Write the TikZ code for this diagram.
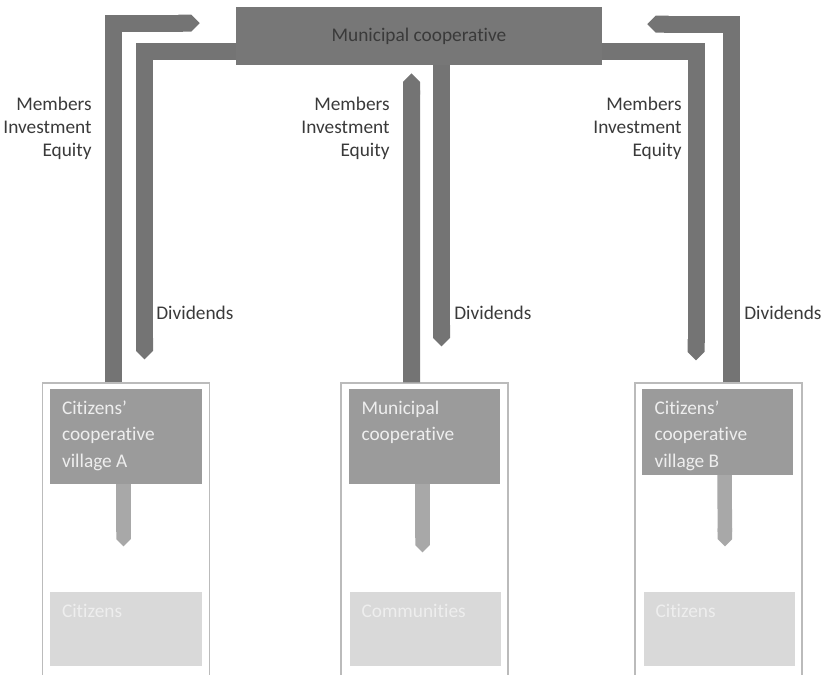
\documentclass[tikz,border=0pt]{standalone}
\usepackage{fontspec}
\setmainfont{Carlito}[Ligatures=NoCommon]
\usetikzlibrary{arrows.meta, positioning}
\definecolor{coopgray}{HTML}{777777}
\definecolor{flowgray}{HTML}{747474}
\definecolor{villagegray}{HTML}{9B9B9B}
\definecolor{subflowgray}{HTML}{A8A8A8}
\definecolor{citizengray}{HTML}{D9D9D9}
\definecolor{framegray}{HTML}{BBBBBB}
\definecolor{labeltext}{HTML}{3A3A3A}
\definecolor{boxtextgray}{HTML}{EEEEEE}

\begin{document}
\begin{tikzpicture}[
    x=0.02cm, y=-0.02cm,
    topbox/.style={
        rectangle, fill=coopgray, inner sep=0pt,
        minimum width=7.32cm, minimum height=1.16cm,
        font=\fontsize{11}{13}\selectfont, text=labeltext
    },
    frame/.style={
        rectangle, draw=framegray, line width=0.7pt, fill=white,
        minimum width=3.34cm, minimum height=5.9cm, inner sep=0pt
    },
    darkbox/.style={
        rectangle, fill=villagegray, inner sep=0pt,
        minimum width=3.04cm, minimum height=#1
    },
    darkbox/.default=1.9cm,
    lightbox/.style={
        rectangle, fill=citizengray, inner sep=0pt,
        minimum width=3.04cm, minimum height=1.48cm
    },
    boxtext/.style={
        anchor=north west, inner sep=0pt, align=left,
        font=\fontsize{11}{15}\selectfont, text=boxtextgray
    },
    flowlabel/.style={
        inner sep=0pt, font=\fontsize{11}{13}\selectfont, text=labeltext
    },
    flow/.style={-{Triangle Cap}, line width=0.34cm, draw=flowgray},
    subflow/.style={-{Triangle Cap}, line width=0.29cm, draw=subflowgray}
]
\useasboundingbox (0,0) rectangle (821,675);

\node[frame] (frA) at (126,530.5) {};
\node[frame] (frB) at (424.5,530.5) {};
\node[frame] (frC) at (718.5,530.5) {};

\node[darkbox, below=0.12cm of frA.north] (dkA) {};
\node[darkbox, below=0.12cm of frB.north] (dkB) {};
\node[darkbox=1.72cm, below=0.12cm of frC.north, xshift=-0.02cm] (dkC) {};

\node[lightbox, below=4.18cm of frA.north] (ltA) {};
\node[lightbox, below=4.18cm of frB.north, xshift=0.02cm] (ltB) {};
\node[lightbox, below=4.18cm of frC.north, xshift=0.02cm] (ltC) {};

\node[boxtext] at ([shift={(12,12)}]dkA.north west) {Citizens’\\cooperative\\village A};
\node[boxtext] at ([shift={(13,12)}]dkB.north west) {Municipal\\cooperative};
\node[boxtext] at ([shift={(13,12)}]dkC.north west) {Citizens’\\cooperative\\village B};

\node[boxtext] at ([shift={(12,12)}]ltA.north west) {Citizens};
\node[boxtext] at ([shift={(12,12)}]ltB.north west) {Communities};
\node[boxtext] at ([shift={(12,12)}]ltC.north west) {Citizens};

\node[topbox] (muni) at (419,36) {Municipal cooperative};

\draw[flow] ([shift={(-12.5,0)}]frA.north) |- ([shift={(-36,16.5)}]muni.north west);
\draw[flow] ([shift={(12.5,0)}]frC.north) |- ([shift={(45,17.5)}]muni.north east);
\draw[flow] ([shift={(-13,0)}]frB.north) -- ([shift={(-7.5,8)}]muni.south);

\draw[flow] ([shift={(0,44.5)}]muni.north west) -| ([shift={(18.5,-23)}]frA.north);
\draw[flow] ([shift={(0,44.5)}]muni.north east) -| ([shift={(-22.5,-22)}]frC.north);
\draw[flow] ([shift={(22.5,0)}]muni.south) -- ([shift={(17,-36)}]frB.north);

\draw[subflow] ([shift={(-2.5,0)}]dkA.south) -- ([shift={(-2.5,-45)}]ltA.north);
\draw[subflow] ([shift={(-2,0)}]dkB.south) -- ([shift={(-3,-39)}]ltB.north);
\draw[subflow] ([shift={(7,0)}]dkC.south) -- ([shift={(5.5,-45)}]ltC.north);

\node[flowlabel, anchor=north east, align=right] at (92,97) {Members\\Investment\\Equity};
\node[flowlabel, anchor=north east, align=right] at (390,97) {Members\\Investment\\Equity};
\node[flowlabel, anchor=north east, align=right] at (682,97) {Members\\Investment\\Equity};

\node[flowlabel, anchor=west] at (156,313) {Dividends};
\node[flowlabel, anchor=west] at (454,313) {Dividends};
\node[flowlabel, anchor=west] at (744,313) {Dividends};

\end{tikzpicture}
\end{document}
